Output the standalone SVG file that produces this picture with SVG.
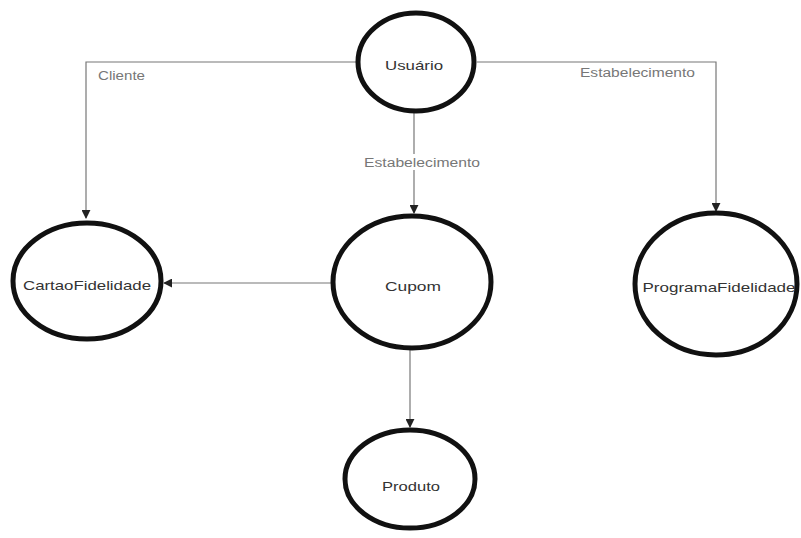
<svg xmlns="http://www.w3.org/2000/svg" width="801" height="538" viewBox="0 0 801 538">
<defs>
<marker id="arr" viewBox="0 0 10 10" refX="9" refY="5" markerWidth="9" markerHeight="9" markerUnits="userSpaceOnUse" orient="auto">
<path d="M0,0 L10,5 L0,10 Z" fill="#222"/>
</marker>
</defs>
<style>
.node ellipse{fill:#fff;stroke:#111;stroke-width:5}
.node text{font-family:"Liberation Sans",Arial,sans-serif;font-size:13px;fill:#333;text-anchor:middle;dominant-baseline:central}
.edge{fill:none;stroke:#777;stroke-width:1.2;marker-end:url(#arr)}
.lbl{font-family:"Liberation Sans",Arial,sans-serif;font-size:12px;fill:#777}
</style>
<rect width="801" height="538" fill="#fff"/>
<g id="connectors">
<path class="edge" d="M356,62 H86 V218"/>
<path class="edge" d="M477,62 H716 V211"/>
<path class="edge" d="M414,113 V213"/>
<path class="edge" d="M331,283 H164"/>
<path class="edge" d="M410,350 V427"/>
<text class="lbl" x="98" y="80" textLength="47" lengthAdjust="spacingAndGlyphs">Cliente</text>
<text class="lbl" x="580" y="77" textLength="115" lengthAdjust="spacingAndGlyphs">Estabelecimento</text>
<rect x="360" y="154" width="124" height="16" fill="#fff"/>
<text class="lbl" x="364" y="167" textLength="116" lengthAdjust="spacingAndGlyphs">Estabelecimento</text>
</g>
<g id="usuario" class="node"><ellipse cx="416" cy="62" rx="58" ry="49"/><text x="414" y="65" textLength="58" lengthAdjust="spacingAndGlyphs">Usuário</text></g>
<g id="cartaofidelidade" class="node"><ellipse cx="87" cy="281" rx="74" ry="58"/><text x="87" y="285" textLength="128" lengthAdjust="spacingAndGlyphs">CartaoFidelidade</text></g>
<g id="cupom" class="node"><ellipse cx="412" cy="282" rx="79" ry="66"/><text x="413" y="286" textLength="56" lengthAdjust="spacingAndGlyphs">Cupom</text></g>
<g id="programafidelidade" class="node"><ellipse cx="716" cy="284" rx="81" ry="71"/><text x="719" y="287" textLength="153" lengthAdjust="spacingAndGlyphs">ProgramaFidelidade</text></g>
<g id="produto" class="node"><ellipse cx="410" cy="479" rx="65" ry="49"/><text x="411" y="486" textLength="58" lengthAdjust="spacingAndGlyphs">Produto</text></g>
</svg>
